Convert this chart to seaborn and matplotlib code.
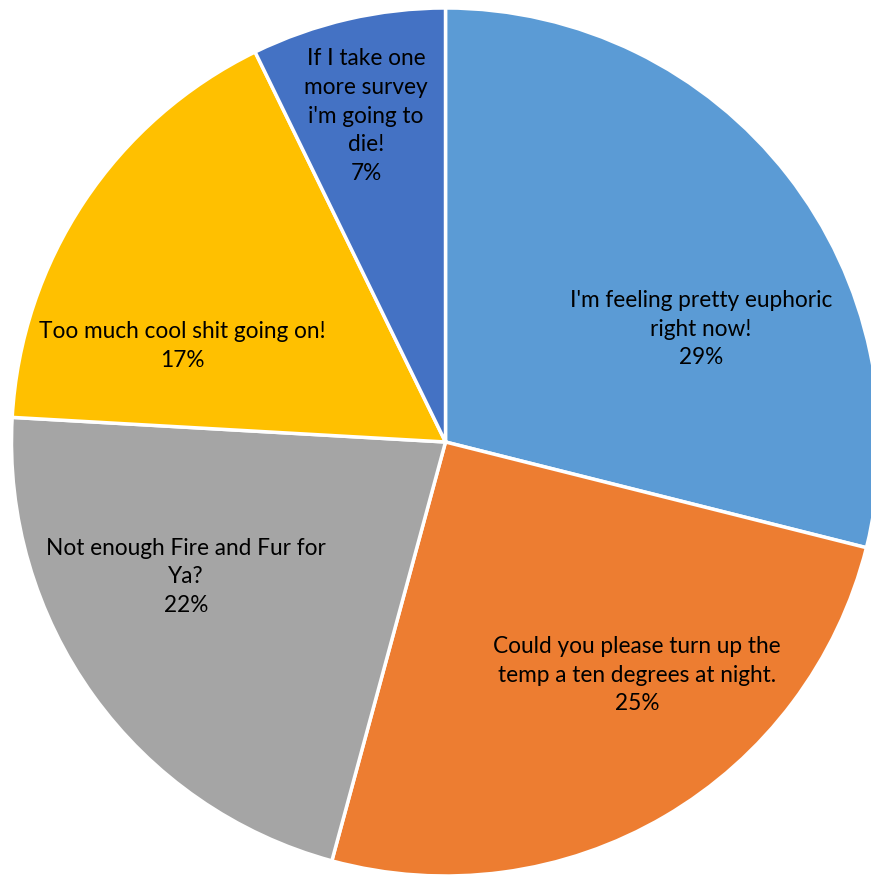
import matplotlib
matplotlib.use("Agg")
import matplotlib.pyplot as plt
import seaborn as sns

sns.set_theme(style="white")
plt.rcParams['font.family'] = ['Lato', 'DejaVu Sans']

# ---------- datos ----------
etiquetas = [
    "I'm feeling pretty euphoric\nright now!",
    "Could you please turn up the\ntemp a ten degrees at night.",
    "Not enough Fire and Fur for\nYa?",
    "Too much cool shit going on!",
    "If I take one\nmore survey\ni'm going to\ndie!",
]
respuestas = [24, 21, 18, 14, 6]
colores = ["#5B9BD5", "#ED7D31", "#A5A5A5", "#FFC000", "#4472C4"]

# posiciones de las etiquetas (fraccion del radio)
pos_etiquetas = [(0.589, 0.260), (0.441, -0.537), (-0.598, -0.311), (-0.606, 0.221), (-0.183, 0.751)]

total = sum(respuestas)

fig = plt.figure(figsize=(8.71, 8.75), dpi=100)
ax = fig.add_axes([0, 0, 1, 1])

ax.pie(respuestas, colors=colores, startangle=90, counterclock=False,
       radius=1, wedgeprops=dict(edgecolor='white', linewidth=2.5))

for txt, n, (x, y) in zip(etiquetas, respuestas, pos_etiquetas):
    ax.text(x, y, f"{txt}\n{round(100 * n / total)}%", ha='center', va='center',
            fontsize=16.3, color='black', linespacing=1.46)

ax.set_aspect('auto')
ax.set_xlim(-1.0265, 0.9804)
ax.set_ylim(-0.9977, 1.0184)
ax.axis('off')

plt.savefig("out.png", dpi=100, facecolor='white')
